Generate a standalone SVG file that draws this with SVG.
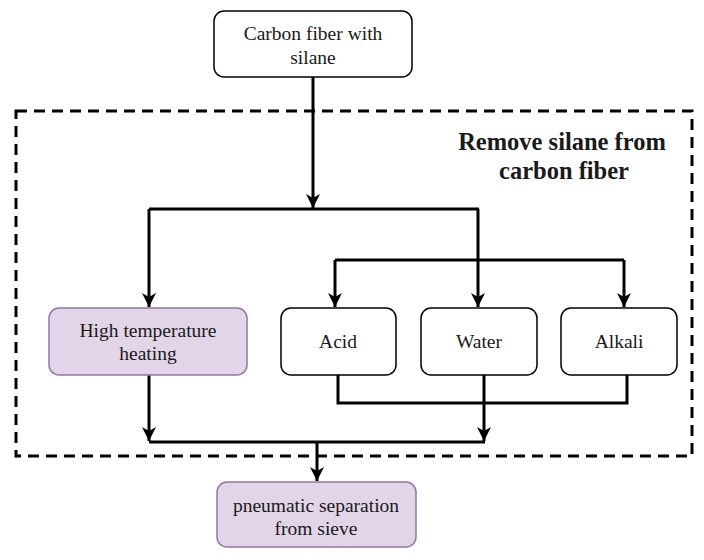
<svg xmlns="http://www.w3.org/2000/svg" width="704" height="560" viewBox="0 0 704 560">
<defs>
<marker id="arr" viewBox="0 0 16 16" refX="15" refY="8" markerWidth="16" markerHeight="16" markerUnits="userSpaceOnUse" orient="auto">
<path d="M15,8 L1,1 L5,8 L1,15 Z" fill="#000"/>
</marker>
<style>
.w{fill:#fff;stroke:#000;stroke-width:1.5}
.p{fill:#e1d5e7;stroke:#9673a6;stroke-width:1.5}
.t{font-family:"Liberation Serif","Times New Roman",serif;font-size:19.5px;fill:#1a1a1a;text-anchor:middle}
.h{font-family:"Liberation Serif","Times New Roman",serif;font-size:24.5px;font-weight:bold;fill:#1a1a1a;text-anchor:middle}
.c{fill:none;stroke:#000;stroke-width:3}
.a{marker-end:url(#arr)}
</style>
</defs>
<rect x="16" y="111" width="676" height="345" fill="none" stroke="#000" stroke-width="3" stroke-dasharray="11 7"/>
<text class="h" x="562" y="150">Remove silane from</text>
<text class="h" x="564" y="179">carbon fiber</text>
<g id="connectors">
<path class="c a" d="M313,77 V208"/>
<path class="c" d="M149,209 H479"/>
<path class="c a" d="M149,209 V307"/>
<path class="c a" d="M478,209 V307"/>
<path class="c" d="M335,260 H624"/>
<path class="c a" d="M335,260 V307"/>
<path class="c a" d="M624,260 V307"/>
<path class="c" d="M338,375 V403 H627 V375"/>
<path class="c a" d="M484,375 V441"/>
<path class="c a" d="M149,375 V441"/>
<path class="c" d="M149,442 H485"/>
<path class="c a" d="M317,442 V481"/>
</g>
<g id="n_top">
<rect class="w" x="214" y="11" width="198" height="66" rx="10"/>
<text class="t" x="313" y="40">Carbon fiber with</text>
<text class="t" x="313" y="64">silane</text>
</g>
<g id="n_heat">
<rect class="p" x="49" y="308" width="198" height="67" rx="10"/>
<text class="t" x="148" y="337">High temperature</text>
<text class="t" x="148" y="360">heating</text>
</g>
<g id="n_acid">
<rect class="w" x="281" y="308" width="115" height="67" rx="10"/>
<text class="t" x="338" y="348">Acid</text>
</g>
<g id="n_water">
<rect class="w" x="421" y="308" width="116" height="67" rx="10"/>
<text class="t" x="479" y="348">Water</text>
</g>
<g id="n_alkali">
<rect class="w" x="561" y="308" width="116" height="67" rx="10"/>
<text class="t" x="619" y="348">Alkali</text>
</g>
<g id="n_sieve">
<rect class="p" x="217" y="482" width="199" height="65" rx="10"/>
<text class="t" x="316" y="512">pneumatic separation</text>
<text class="t" x="316" y="535">from sieve</text>
</g>
</svg>
